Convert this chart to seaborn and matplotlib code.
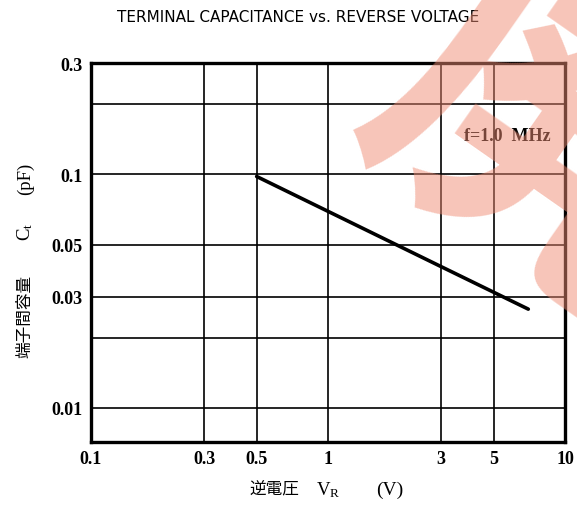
import numpy as np
import pandas as pd
import matplotlib
matplotlib.use('Agg')
import matplotlib.pyplot as plt
import seaborn as sns

# Data (log-log, straight line)
reverse_voltage = [0.5, 1.0, 3.0, 5.0, 7.0]
capacitance = [0.098, 0.0695, 0.0403, 0.0313, 0.0265]

x_ticks = [0.1, 0.3, 0.5, 1, 3, 5, 10]
x_ticklabels = ['0.1', '0.3', '0.5', '1', '3', '5', '10']
y_ticks = [0.01, 0.03, 0.05, 0.1, 0.3]
y_ticklabels = ['0.01', '0.03', '0.05', '0.1', '0.3']
y_minor = [0.02, 0.2]

sns.set_style('white')
plt.rcParams['font.family'] = ['Liberation Serif', 'Noto Sans CJK JP', 'DejaVu Sans']
plt.rcParams['mathtext.fontset'] = 'custom'
plt.rcParams['mathtext.rm'] = 'Liberation Serif'
plt.rcParams['mathtext.it'] = 'Liberation Serif'
plt.rcParams['text.color'] = 'black'
plt.rcParams['xtick.color'] = 'black'
plt.rcParams['ytick.color'] = 'black'

df = pd.DataFrame({'VR': reverse_voltage, 'Ct': capacitance})

W, H = 577, 506
fig = plt.figure(figsize=(W / 100, H / 100), dpi=100)
ax = fig.add_axes([91/W, 63/H, 474/W, 379/H])

sns.lineplot(data=df, x='VR', y='Ct', ax=ax, color='black', linewidth=2.6)

ax.set_xscale('log')
ax.set_yscale('log')
ax.set_xlim(0.1, 10)
ax.set_ylim(0.00715, 0.3)

ax.set_xticks(x_ticks)
ax.set_xticklabels(x_ticklabels)
ax.set_xticks([], minor=True)
ax.set_yticks(y_ticks)
ax.set_yticklabels(y_ticklabels)
ax.set_yticks(y_minor, minor=True)
ax.tick_params(which='both', length=0, labelsize=13, pad=6)
for lab in ax.get_xticklabels() + ax.get_yticklabels():
    lab.set_fontweight('bold')

ax.grid(True, which='both', color='black', linewidth=1.2)
for s in ax.spines.values():
    s.set_linewidth(2.4)
    s.set_color('black')
ax.set_xlabel('')
ax.set_ylabel('')

# axis labels, built from pieces so CJK and subscripts both render
fig.text(274/W, 1 - 490/H, '逆電圧', fontsize=12, family=['Noto Sans CJK JP'], ha='center', va='center')
fig.text(328/W, 1 - 490/H, '$\\mathrm{V_R}$', fontsize=13.5, ha='center', va='center')
fig.text(390/W, 1 - 490/H, '(V)', fontsize=14, ha='center', va='center')
fig.text(25/W, 1 - 316/H, '端子間容量', fontsize=12, family=['Noto Sans CJK JP'],
         rotation=90, ha='center', va='center')
fig.text(25/W, 1 - 232/H, '$\\mathrm{C_t}$', fontsize=13.5, rotation=90, ha='center', va='center')
fig.text(25/W, 1 - 179/H, '(pF)', fontsize=13.5, rotation=90, ha='center', va='center')

ax.text(8.7, 0.147, 'f=1.0  MHz', fontsize=13, fontweight='bold', color='black',
        ha='right', va='center')

fig.text(298/W, 1 - 17/H, 'TERMINAL CAPACITANCE vs. REVERSE VOLTAGE',
         fontsize=11, family=['DejaVu Sans'], ha='center', va='center')

# pink stamp over the top-right corner
fig.text(558/W, 1 - 142/H, '廃', fontsize=260, color='#ef8b73', alpha=0.5, rotation=-35,
         ha='center', va='center', family=['Noto Sans CJK JP'], fontweight='bold', zorder=10)

plt.savefig('out.png', dpi=100)
